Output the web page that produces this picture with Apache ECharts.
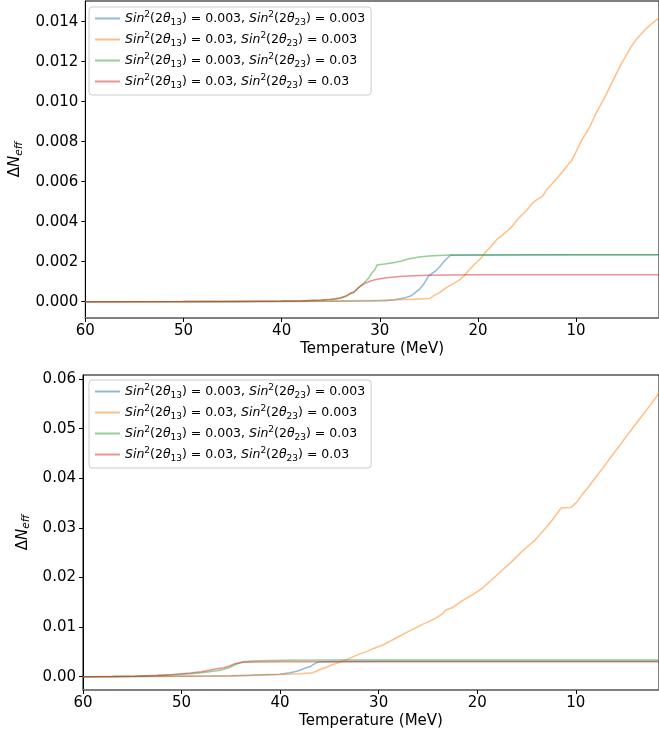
<!DOCTYPE html>
<html>
<head>
<meta charset="utf-8">
<script src="https://cdn.jsdelivr.net/npm/echarts@6/dist/echarts.min.js"></script>
<style>
html,body{margin:0;padding:0;background:#fff;}
#c{width:659px;height:740px;}
</style>
</head>
<body>
<div id="c"></div>
<script>
// ---- data ----
const mixing = [["0.003","0.003"],["0.03","0.003"],["0.003","0.03"],["0.03","0.03"]];
const colors = ["#1f77b4","#ff7f0e","#2ca02c","#d62728"];
const xTicks = [60,50,40,30,20,10];
const yTicksTop = [0,0.002,0.004,0.006,0.008,0.010,0.012,0.014];
const yTicksBot = [0,0.01,0.02,0.03,0.04,0.05,0.06];

const topBlue = [[60,0],[50,0],[40,0.00001],[35,0.00002],[31,0.00003],[29.5,0.00005],[28.5,0.0001],[27.5,0.00018],[26.8,0.0003],[26,0.0006],[25.5,0.0009],[25,0.0013],[24.4,0.0015],[23.9,0.00175],[23.3,0.0021],[22.8,0.00232],[20,0.00234],[10,0.00235],[1.5,0.00235]];
const topOrange = [[60,0],[45,0.00001],[40,0.00002],[35,0.00004],[30,0.00007],[28,0.0001],[26,0.00014],[24.9,0.00016],[24.5,0.0003],[23.9,0.00045],[23.2,0.00072],[22.5,0.0009],[21.9,0.00108],[21.4,0.0013],[20.9,0.00158],[20.3,0.0019],[19.7,0.00217],[19.2,0.0025],[18.7,0.00275],[18.1,0.0031],[17.5,0.00333],[17,0.00355],[16.5,0.00378],[16,0.0041],[15.5,0.00435],[15,0.0046],[14.5,0.0049],[14,0.0051],[13.45,0.00525],[13,0.0056],[12.45,0.0059],[11.9,0.0062],[11.4,0.0065],[10.9,0.0068],[10.4,0.0071],[9.9,0.0076],[9.4,0.0081],[8.6,0.00875],[8.1,0.0093],[7.6,0.00975],[7,0.0103],[6.4,0.0109],[5.9,0.0114],[5.4,0.0119],[4.9,0.0123],[4.4,0.01275],[3.9,0.0131],[3.35,0.0134],[2.8,0.01368],[2.3,0.0139],[1.5,0.0142]];
const topGreen = [[60,0],[50,0.000005],[45,0.00001],[40,0.00002],[38,0.00004],[36,0.00007],[35,0.0001],[34.5,0.00012],[34,0.00017],[33.4,0.00028],[33,0.0004],[32.6,0.00048],[32.2,0.0007],[31.9,0.0008],[31.5,0.001],[31.1,0.0012],[30.8,0.00145],[30.5,0.0016],[30.3,0.00183],[29.5,0.00188],[28.5,0.00196],[27.7,0.00205],[27,0.00215],[26,0.00223],[25,0.00228],[24,0.00231],[22.9,0.00233],[20,0.00234],[10,0.00235],[1.5,0.00235]];
const topRed = [[60,0],[50,0.000005],[45,0.00001],[40,0.00003],[38,0.00005],[36,0.00009],[35,0.00012],[34,0.0002],[33.4,0.0003],[33,0.00042],[32.6,0.0005],[32.2,0.00068],[31.9,0.0008],[31.5,0.00092],[31,0.00102],[30.5,0.0011],[30,0.00115],[29.3,0.0012],[28,0.00126],[26.6,0.0013],[25,0.00132],[23,0.00134],[20,0.00135],[10,0.00135],[1.5,0.00135]];

const botBlue = [[60,0],[55,0.00003],[50,0.00008],[47,0.00012],[45,0.00018],[43,0.0003],[41,0.00042],[40,0.0005],[39.5,0.00065],[39,0.0008],[38.5,0.001],[38,0.0013],[37.5,0.0017],[37,0.002],[36.6,0.0025],[36.2,0.0029],[35.6,0.003],[34,0.00305],[30,0.0031],[20,0.0031],[10,0.0031],[1.5,0.0031]];
const botOrange = [[60,0],[55,0.00003],[50,0.00008],[45,0.00015],[43,0.00025],[40,0.00045],[38,0.0006],[36.7,0.0008],[36,0.0014],[35.3,0.0019],[34.7,0.0024],[34,0.0029],[33.3,0.0034],[32.5,0.0041],[31.9,0.0046],[31.3,0.005],[30.5,0.0057],[29.6,0.0064],[28.8,0.0072],[27.95,0.0081],[27.2,0.0089],[26.3,0.0098],[25.5,0.0106],[24.9,0.0111],[24.2,0.0118],[23.5,0.0127],[23.2,0.01345],[22.55,0.0139],[21.55,0.0153],[20.5,0.0165],[19.5,0.0178],[18.66,0.0193],[17.5,0.0214],[16.5,0.0232],[15.5,0.0252],[14.8,0.0264],[14.1,0.0276],[13.1,0.0299],[12.3,0.0318],[11.5,0.034],[10.5,0.0341],[9.9,0.0352],[9.4,0.0366],[8.7,0.0383],[8.06,0.04],[7.2,0.0422],[6.4,0.0444],[5.7,0.0462],[5.0,0.0481],[4.2,0.0502],[3.35,0.0524],[2.5,0.0546],[1.5,0.0573]];
const botGreen = [[60,0],[57,0.00003],[54.7,0.00007],[52.5,0.0002],[50.9,0.00034],[49.1,0.0006],[48,0.0008],[47.2,0.001],[46.4,0.0012],[45.7,0.0015],[45.2,0.0018],[45,0.0019],[44.6,0.0024],[44.4,0.0028],[43.8,0.003],[42.3,0.0032],[39.7,0.0033],[35,0.00335],[20,0.00336],[1.5,0.00336]];
const botRed = [[60,0],[57,0.00004],[54.7,0.0001],[52.5,0.0003],[50.9,0.00047],[49.1,0.00074],[48,0.001],[47.2,0.0013],[46.4,0.0016],[45.7,0.0018],[45.2,0.0021],[44.6,0.0026],[43.8,0.0029],[42.3,0.00296],[40,0.003],[20,0.003],[1.5,0.003]];

// ---- build ----
const names = mixing.map(m => `Sin²(2θ₁₃) = ${m[0]}, Sin²(2θ₂₃) = ${m[1]}`);
const richName = name => {
  const m = mixing[names.indexOf(name)];
  return `{i|Sin}{p|2}(2{i|θ}{b|13}) = ${m[0]}, {i|Sin}{p|2}(2{i|θ}{b|23}) = ${m[1]}`;
};
const FONT = "DejaVu Sans";

function makeSeries(arrs, idx) {
  return arrs.map((d, k) => ({
    type: 'line', name: names[k], data: d, xAxisIndex: idx, yAxisIndex: idx,
    symbol: 'none', showSymbol: false, animation: false,
    itemStyle: {color: colors[k], opacity: 0.5},
    lineStyle: {color: colors[k], width: 1.5, opacity: 0.5}
  }));
}

function makeX(idx) {
  return {
    type: 'value', gridIndex: idx, inverse: true, min: 1.556, max: 60,
    name: 'Temperature (MeV)', nameLocation: 'middle', nameGap: 24,
    nameTextStyle: {fontFamily: FONT, fontSize: 15, color: '#000'},
    axisLine: {show: true, onZero: false, lineStyle: {color: '#808080', width: 2}},
    axisTick: {show: true, length: 4, lineStyle: {color: '#000'}, customValues: xTicks},
    axisLabel: {fontFamily: FONT, fontSize: 15, color: '#000', margin: 6, customValues: xTicks},
    splitLine: {show: false}
  };
}

function makeY(idx, min, max, ticks, dec, gap) {
  return {
    type: 'value', gridIndex: idx, min: min, max: max,
    name: '{a|Δ}{n|N}{s|eff}', nameLocation: 'middle', nameGap: gap, nameRotate: 90,
    nameTextStyle: {fontFamily: FONT, fontSize: 15, color: '#000',
      rich: {
        a: {fontFamily: FONT, fontSize: 15, lineHeight: 18, verticalAlign: 'middle'},
        n: {fontFamily: FONT, fontSize: 15, fontStyle: 'italic', lineHeight: 18, verticalAlign: 'middle'},
        s: {fontFamily: FONT, fontSize: 10.5, fontStyle: 'italic', lineHeight: 10, verticalAlign: 'bottom'}
      }},
    axisLine: {show: true, onZero: false, lineStyle: {color: '#000', width: 1}},
    axisTick: {show: true, length: 4, lineStyle: {color: '#000'}, customValues: ticks},
    axisLabel: {fontFamily: FONT, fontSize: 15, color: '#000', margin: 7, customValues: ticks,
      formatter: v => v.toFixed(dec)},
    splitLine: {show: false}
  };
}

function makeLegend(top) {
  return {
    orient: 'vertical', left: 89, top: top, data: names.map(n => ({name: n})),
    icon: 'rect', itemWidth: 25, itemHeight: 2, itemGap: 4, itemTextGap: 9,
    padding: [3, 6, 5, 6], borderColor: '#cccccc', borderWidth: 1, borderRadius: 3,
    backgroundColor: '#ffffff', selectedMode: false,
    formatter: richName,
    textStyle: {
      fontFamily: FONT, fontSize: 12.5, color: '#000', lineHeight: 17,
      rich: {
        i: {fontFamily: FONT, fontSize: 12.5, fontStyle: 'italic', lineHeight: 17},
        p: {fontFamily: FONT, fontSize: 9, lineHeight: 12, verticalAlign: 'top'},
        b: {fontFamily: FONT, fontSize: 9, lineHeight: 10, verticalAlign: 'bottom'}
      }
    }
  };
}

const chart = echarts.init(document.getElementById('c'), null, {renderer: 'canvas'});
chart.setOption({
  animation: false,
  backgroundColor: '#ffffff',
  grid: [
    {left: 83, right: -2, top: 1, height: 317, show: true, borderColor: '#000', borderWidth: 1, backgroundColor: 'transparent'},
    {left: 83, right: -2, top: 375, height: 315, show: true, borderColor: '#000', borderWidth: 1, backgroundColor: 'transparent'}
  ],
  xAxis: [makeX(0), makeX(1)],
  yAxis: [
    makeY(0, -0.000815, 0.015035, yTicksTop, 3, 50),
    makeY(1, -0.00268, 0.06083, yTicksBot, 2, 39)
  ],
  legend: [makeLegend(7), makeLegend(380)],
  series: [
    ...makeSeries([topBlue, topOrange, topGreen, topRed], 0),
    ...makeSeries([botBlue, botOrange, botGreen, botRed], 1)
  ]
});
</script>
</body>
</html>
